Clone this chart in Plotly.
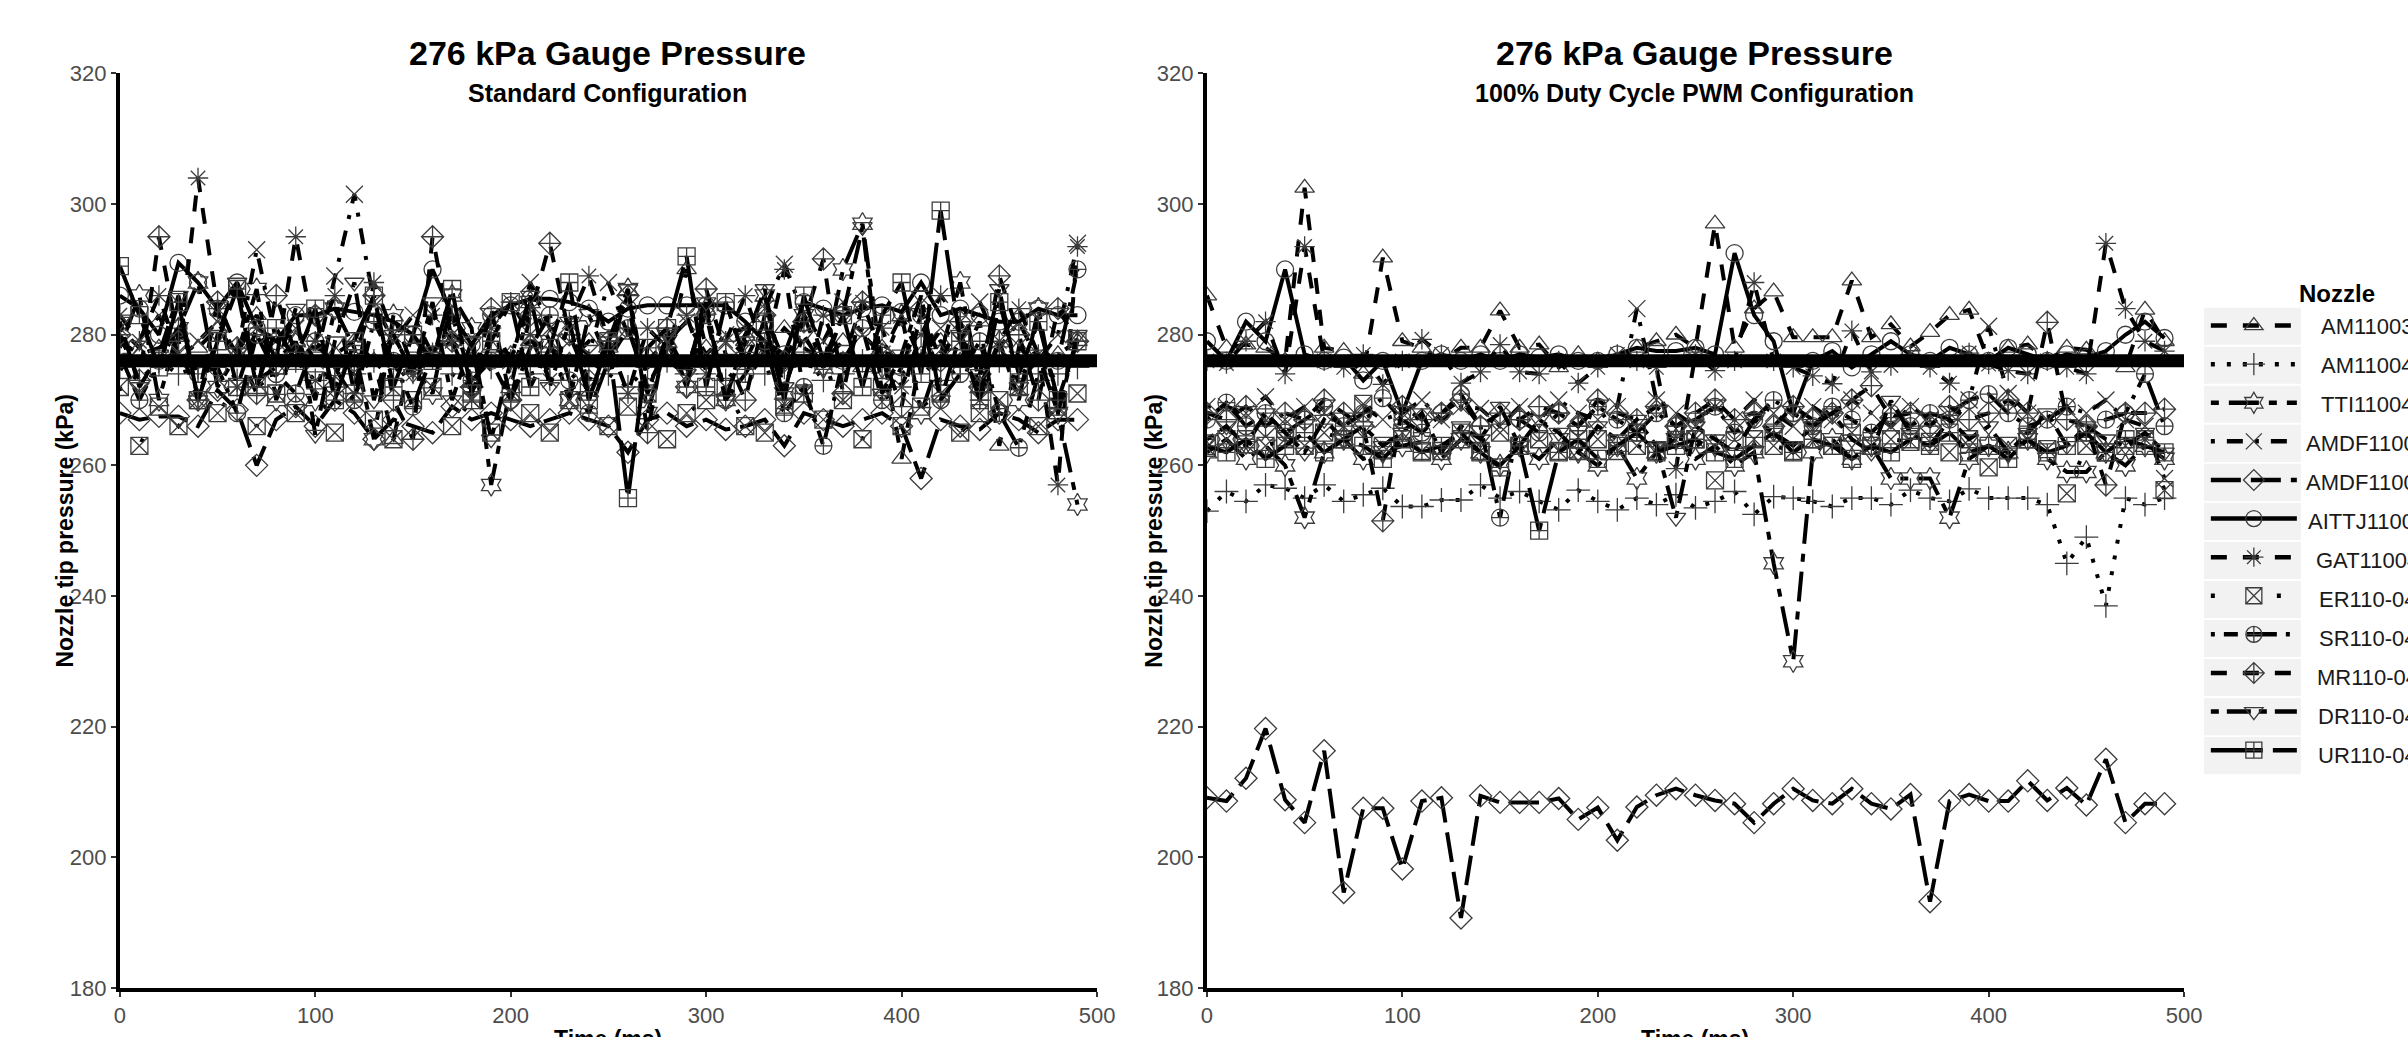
import plotly.graph_objects as go

W, H = 2408, 1037

TIME = [0, 10, 20, 30, 40, 50, 60, 70, 80, 90, 100, 110, 120, 130, 140, 150, 160, 170, 180, 190,
        200, 210, 220, 230, 240, 250, 260, 270, 280, 290, 300, 310, 320, 330, 340, 350, 360, 370, 380, 390,
        400, 410, 420, 430, 440, 450, 460, 470, 480, 490]
TARGET_KPA = 276
Y_TICKS = [180, 200, 220, 240, 260, 280, 300, 320]
X_TICKS = [0, 100, 200, 300, 400, 500]

NOZZLES = ["AM11003", "AM11004", "TTI11004", "AMDF11003", "AMDF11004", "AITTJ11004",
           "GAT11004", "ER110-04", "SR110-04", "MR110-04", "DR110-04", "UR110-04"]

# ---- Standard configuration (kPa) ----
STD_AM1 = [279, 277, 278, 280, 278, 281, 277, 283, 276, 279, 278, 277, 279, 276, 264, 278, 277, 279, 276, 278,
           277, 279, 278, 276, 279, 278, 280, 277, 276, 290, 278, 276, 279, 277, 281, 278, 276, 279, 275, 278,
           261, 277, 279, 276, 282, 263, 278, 276, 277, 279]
STD_AM2 = [275, 273, 276, 274, 275, 277, 273, 272, 274, 276, 273, 275, 274, 276, 273, 275, 277, 274, 272, 275,
           276, 274, 275, 273, 276, 274, 272, 275, 276, 274, 275, 273, 276, 274, 275, 277, 273, 274, 276, 275,
           274, 276, 273, 275, 274, 276, 275, 273, 274, 275]
STD_TTI = [278, 286, 270, 281, 288, 272, 277, 287, 270, 279, 270, 284, 278, 264, 283, 275, 271, 286, 281, 257,
           272, 285, 279, 270, 283, 276, 287, 268, 279, 272, 284, 270, 280, 286, 271, 283, 275, 290, 297, 275,
           283, 268, 277, 288, 272, 279, 270, 284, 268, 254]
STD_AMDF1 = [281, 278, 283, 276, 279, 282, 277, 293, 279, 281, 276, 289, 301.5, 285, 279, 283, 277, 280, 278, 282,
             276, 288, 281, 279, 277, 288, 280, 276, 279, 282, 277, 280, 281, 284, 290.8, 283, 279, 285, 280, 277,
             283, 276, 281, 279, 285, 278, 282, 276, 280, 294]
STD_AMDF2 = [268, 267, 267.5, 267.5, 266, 271.5, 268.5, 260, 267, 269, 266, 270, 268, 264, 267, 266, 265, 269, 267, 268,
             267, 266, 267, 268, 267, 266, 262, 267, 268, 266, 267, 265.5, 266, 267, 263, 268, 267, 266, 267, 268,
             266, 258, 267, 266, 265.5, 268, 267, 265, 267, 267]
STD_AITTJ = [286, 284, 280, 291, 288, 284, 288, 281, 279, 283, 283, 284, 283.5, 283, 282, 280, 290, 283, 278.5, 283,
             284.5, 285.5, 285.5, 285, 284, 282, 284, 284.5, 284.5, 284.5, 284.5, 284.5, 282, 279, 277, 285, 284, 283, 284, 284.5,
             283.5, 288, 283, 284, 283, 282, 282, 284, 283, 283]
STD_GAT = [283, 279, 286, 277, 304, 284, 272, 281, 276, 295, 279, 286, 271, 288, 280, 274, 283, 279, 270, 281,
           285, 280, 273, 282, 289, 279, 271, 281, 278, 283, 274, 279, 286, 277, 290, 271, 283, 276, 285, 281,
           272, 280, 286, 282, 270, 279, 284, 277, 257, 293.5]
STD_ER = [272, 263, 269, 266, 270, 268, 272, 266, 271, 268, 273, 265, 271, 267, 264, 270, 272, 266, 270, 265,
          271, 268, 265, 270, 272, 266, 269, 271, 264, 268, 270, 272, 266, 265, 269, 271, 267, 270, 264, 272,
          266, 269, 271, 265, 268, 270, 272, 266, 269, 271]
STD_SR = [277, 270, 276, 281, 274, 275, 268, 280, 274, 271, 279, 275, 270, 282, 276, 269, 277, 283, 273, 276,
          270, 278, 283, 273, 268, 276, 281, 272, 278, 275, 283, 270, 274, 279, 268, 272, 263, 276, 281, 270,
          275, 283, 270, 274, 279, 268, 262.7, 274, 276, 290]
STD_MR = [280, 273, 295, 279, 270, 285, 278, 271, 286, 277, 283, 272, 276, 286, 270, 264, 295, 279, 272, 284,
          270, 283, 294, 280, 273, 279, 286, 265, 281, 272, 287, 277, 270, 283, 276, 282, 291.6, 271, 285, 277,
          269, 284, 276, 282, 272, 289, 280, 270, 284, 279]
STD_DR = [282, 272, 277, 286, 270, 280, 288, 273, 275, 284, 264.7, 279, 288, 270, 280, 274, 285, 270, 279, 264,
          276, 286, 272, 282, 270, 279, 287, 271, 280, 274, 285, 270, 279, 287, 272, 280, 275, 283, 296.5, 271,
          277, 286, 270, 280, 274, 287, 272, 277, 268, 280]
STD_UR = [290.5, 283, 275, 285, 270, 279, 287, 272, 281, 276, 284, 270, 279, 286, 272, 280, 276, 287, 271, 279,
          285, 272, 278, 288, 270, 279, 255, 278, 281, 292, 272, 285, 276, 282, 270, 286, 276, 283, 272, 283,
          288, 274, 299, 279, 270, 285, 274, 282, 270, 279]

# ---- 100% duty cycle PWM configuration (kPa) ----
PWM_AM1 = [286, 278, 278.5, 278, 276, 302.5, 278, 277.5, 274, 291.8, 279, 278, 276, 278, 278, 283.7, 278, 278.5, 275, 277,
           276, 276, 278, 279, 280, 278, 297, 278, 284, 286.6, 279.6, 279.6, 279.6, 288.3, 279.6, 281.6, 278.2, 280.4, 283, 283.8,
           276, 278, 278.5, 276, 278, 277.7, 276, 275, 283.8, 279]
PWM_AM2 = [253, 256, 254.5, 257, 256.5, 255, 257, 254.5, 255.5, 256.5, 253.7, 253.7, 254.7, 254.7, 257, 255, 256, 254.5, 253.2, 256.2,
           254.5, 253.2, 255, 254, 255.5, 253.5, 254.5, 256, 252.5, 255.2, 255, 254.5, 253.7, 255, 255, 254, 256.2, 255, 254.5, 256.4,
           255, 255, 255, 254, 245, 249, 238.5, 255, 254, 255]
PWM_TTI = [262, 264, 261, 263, 260, 252, 262, 264, 261, 262, 263, 263.6, 261, 264, 262, 260, 263, 261, 264, 262,
           260, 263, 258, 262, 264, 261, 263, 260, 262, 245, 230, 262, 264, 261, 263, 258, 258, 258, 252, 261,
           263, 262, 264, 261, 259, 259, 262, 260, 263, 261]
PWM_AMDF1 = [269, 269, 268, 270.5, 267, 269, 268, 266, 269, 267, 268, 270, 267, 269, 268.7, 266, 269, 267, 270, 268,
             267, 269, 284, 270, 268, 266, 269, 267, 270, 268, 266, 269, 267, 270, 268, 266, 269, 267, 268, 270,
             281.3, 271, 268, 267, 269, 268, 270, 267, 266, 258]
PWM_AMDF2 = [209.1, 208.6, 212.1, 219.7, 208.8, 205.3, 216.3, 194.6, 207.5, 207.5, 198.2, 208.6, 209.1, 190.7, 209.4, 208.4, 208.4, 208.4, 209, 205.8,
             207.6, 202.6, 207.7, 209.5, 210.5, 209.5, 208.7, 208.2, 205.3, 208.2, 210.5, 208.7, 208.2, 210.5, 208.2, 207.4, 209.6, 193.2, 208.6, 209.6,
             208.6, 208.6, 211.7, 208.7, 210.6, 208, 215, 205.3, 208.2, 208.2]
PWM_AITTJ = [279, 276, 282, 279, 290, 277, 276, 276.5, 273, 276, 268, 276, 277, 276, 277, 276, 277, 276.5, 277, 276,
             276, 277, 278, 277.5, 277.5, 278, 277, 292.5, 283, 279, 268, 276, 277.5, 275, 277, 279, 277, 276, 278, 277,
             276, 278, 277, 276, 277, 276.5, 277.5, 280, 282, 279.5]
PWM_GAT = [276, 275.6, 279, 282, 274, 293.5, 276, 275, 277, 272.4, 276, 279.3, 277, 272.6, 274.3, 278.5, 274.3, 274, 276, 272.6,
           275, 277, 276, 275, 259.5, 277, 274.5, 276, 288, 276, 275, 273.7, 272.5, 280.6, 274.3, 275.3, 277, 275, 272.6, 277.2,
           275.5, 274.5, 274, 276, 275, 274, 294, 284, 279, 277.5]
PWM_ER = [262.7, 264, 263.2, 263, 264, 263, 265, 264, 269.4, 263, 265, 262.2, 262.2, 264, 262.2, 265, 263, 264, 262.2, 262.2,
          264, 262.2, 263, 262.2, 263.9, 264, 257.7, 263.9, 264, 263, 262.2, 264, 263, 265, 263, 264, 263.6, 263.6, 262, 264,
          259.7, 263, 264, 262.5, 255.7, 263, 262, 263, 264, 256.2]
PWM_SR = [267, 269.6, 266, 268, 265, 267, 269, 266, 268, 270.3, 267, 265, 268, 270.9, 266, 252, 267, 265, 268, 266,
          269, 267, 265, 268, 266, 267, 269, 265, 267, 270, 268, 266, 269, 267, 265, 268, 266, 268, 267, 270,
          270.9, 268, 266, 267, 269, 265, 267, 268, 274, 266]
PWM_MR = [268, 267, 269, 266, 268, 267, 270, 268, 266, 251.5, 269, 267, 268, 270, 266, 268, 267, 269, 268, 266,
          270, 268, 267, 269, 266, 268, 270, 267, 268, 266, 269, 267, 268, 270, 272.2, 267.3, 268, 266, 269, 267,
          268, 270, 268, 281.9, 267, 266, 257, 268, 268, 268.6]
PWM_DR = [264, 266, 263, 268, 265, 262, 267, 264, 266, 263, 265, 268, 262, 266, 264, 269, 263, 267, 265, 262,
          266, 264, 267, 263, 252, 266, 264, 262, 267, 265, 263, 266, 268, 264, 262, 269.9, 265, 263, 267, 264,
          266, 262, 265, 268, 263, 266, 264, 263, 265, 262]
PWM_UR = [263, 262, 264, 261, 263, 265, 262, 264, 263, 261, 264, 262, 263, 265, 262, 259.7, 263, 250, 262, 264,
          261, 263, 265, 262, 263, 264, 262, 261, 263, 265, 262, 264, 263, 261, 263, 262, 264, 263, 265, 262,
          263, 261, 264, 262, 263, 265, 262, 264, 263, 262]

STD_SERIES = [STD_AM1, STD_AM2, STD_TTI, STD_AMDF1, STD_AMDF2, STD_AITTJ,
              STD_GAT, STD_ER, STD_SR, STD_MR, STD_DR, STD_UR]
PWM_SERIES = [PWM_AM1, PWM_AM2, PWM_TTI, PWM_AMDF1, PWM_AMDF2, PWM_AITTJ,
              PWM_GAT, PWM_ER, PWM_SR, PWM_MR, PWM_DR, PWM_UR]
for s in STD_SERIES + PWM_SERIES:
    assert len(s) == len(TIME), len(s)

SYMBOLS = ["triangle-up-open", "cross-thin-open", "hexagram-open", "x-thin-open",
           "diamond-open", "circle-open", "asterisk-open", "square-x-open",
           "circle-cross-open", "diamond-cross-open", "triangle-down-open", "square-cross-open"]
DASHES = ["16px,16px", "4px,12px", "8px,10px,30px,10px", "4px,12px,16px,12px",
          "30px,10px", "solid", "16px,16px", "4px,62px",
          "4px,9px,14px,9px,30px,9px", "16px,16px", "8px,8px,24px,8px", "52px,10px"]

FONT = "Liberation Sans, Arial, sans-serif"
LINE_W = 4
MARK_COL = "#3C3C3C"
MARK_SIZE = 17

fig = go.Figure()
for panel, series_set in ((1, STD_SERIES), (2, PWM_SERIES)):
    for i, name in enumerate(NOZZLES):
        fig.add_trace(go.Scatter(
            x=TIME, y=series_set[i], name=name, legendgroup=name,
            showlegend=False, mode="lines+markers",
            xaxis="x" if panel == 1 else "x2", yaxis="y" if panel == 1 else "y2",
            line=dict(color="black", width=LINE_W, dash=DASHES[i]),
            marker=dict(symbol=SYMBOLS[i], size=MARK_SIZE, color=MARK_COL,
                        line=dict(color=MARK_COL, width=1.3)),
        ))
# legend keys (no data; labels are written next to them, overflowing the page as in the original)
for i, name in enumerate(NOZZLES):
    fig.add_trace(go.Scatter(
        x=[None], y=[None], name=" ", legendgroup=name, showlegend=True,
        mode="lines+markers", xaxis="x2", yaxis="y2", hoverinfo="skip",
        line=dict(color="black", width=4.5, dash=DASHES[i]),
        marker=dict(symbol=SYMBOLS[i], size=MARK_SIZE, color=MARK_COL,
                    line=dict(color=MARK_COL, width=1.3)),
    ))


def px(x):
    return x / W


def py(y):
    return 1 - y / H


axis_common = dict(
    showline=True, linecolor="black", linewidth=4, mirror=False,
    ticks="outside", ticklen=5, tickwidth=1.5, tickcolor="#333333",
    tickfont=dict(family=FONT, size=22, color="#4D4D4D"),
    showgrid=False, zeroline=False,
)
ydom = [py(1000), py(63)]
fig.update_layout(
    width=W, height=H, margin=dict(l=0, r=0, t=0, b=0),
    paper_bgcolor="white", plot_bgcolor="white",
    xaxis=dict(domain=[px(115), px(1102)], anchor="y", range=[0, 500], tickvals=X_TICKS, **axis_common),
    yaxis=dict(domain=ydom, anchor="x", range=[180, 320], tickvals=Y_TICKS, **axis_common),
    xaxis2=dict(domain=[px(1213), px(2200)], anchor="y2", range=[0, 500], tickvals=X_TICKS, **axis_common),
    yaxis2=dict(domain=ydom, anchor="x2", range=[180, 320], tickvals=Y_TICKS, **axis_common),
    legend=dict(x=px(2222), y=py(300), xanchor="left", yanchor="top",
                font=dict(family=FONT, size=22, color="#1A1A1A"),
                bgcolor="rgba(0,0,0,0)", itemwidth=86, tracegroupgap=7,
                traceorder="grouped"),
    showlegend=True,
)

shapes = []
for xr, yr in (("x", "y"), ("x2", "y2")):
    shapes.append(dict(type="line", xref=xr, yref=yr, x0=0, x1=500, y0=TARGET_KPA, y1=TARGET_KPA,
                       line=dict(color="black", width=13), layer="above"))
for k in range(len(NOZZLES)):
    shapes.append(dict(type="rect", xref="paper", yref="paper", x0=px(2220), x1=px(2318),
                       y0=py(303 + 40 * k + 38), y1=py(303 + 40 * k),
                       fillcolor="#F2F2F2", line=dict(width=0), layer="below"))
fig.update_layout(shapes=shapes)

ann = []
for cx, sub in ((608, "Standard Configuration"), (1706, "100% Duty Cycle PWM Configuration")):
    ann.append(dict(x=px(cx), y=py(42), xref="paper", yref="paper", showarrow=False,
                    text="<b>276 kPa Gauge Pressure</b>", font=dict(family=FONT, size=34, color="black"),
                    xanchor="center", yanchor="middle"))
    ann.append(dict(x=px(cx), y=py(83), xref="paper", yref="paper", showarrow=False,
                    text="<b>" + sub + "</b>", font=dict(family=FONT, size=25, color="black"),
                    xanchor="center", yanchor="middle"))
    ann.append(dict(x=px(cx), y=py(1052), xref="paper", yref="paper", showarrow=False,
                    text="<b>Time (ms)</b>", font=dict(family=FONT, size=23, color="black"),
                    xanchor="center", yanchor="middle"))
for tx in (60, 1160):
    ann.append(dict(x=px(tx), y=py(531), xref="paper", yref="paper", showarrow=False,
                    text="<b>Nozzle tip pressure (kPa)</b>", textangle=-90,
                    font=dict(family=FONT, size=23, color="black"),
                    xanchor="center", yanchor="middle"))
ann.append(dict(x=px(2314), y=py(288), xref="paper", yref="paper", showarrow=False,
                text="<b>Nozzle</b>", font=dict(family=FONT, size=24, color="black"),
                xanchor="left", yanchor="middle"))
for k, name in enumerate(NOZZLES):
    ann.append(dict(x=px(2385), y=py(322 + 40 * k), xref="paper", yref="paper", showarrow=False,
                    text=name, font=dict(family=FONT, size=22, color="#1A1A1A"),
                    xanchor="center", yanchor="middle"))
fig.update_layout(annotations=ann)

fig.write_html("out.html")
